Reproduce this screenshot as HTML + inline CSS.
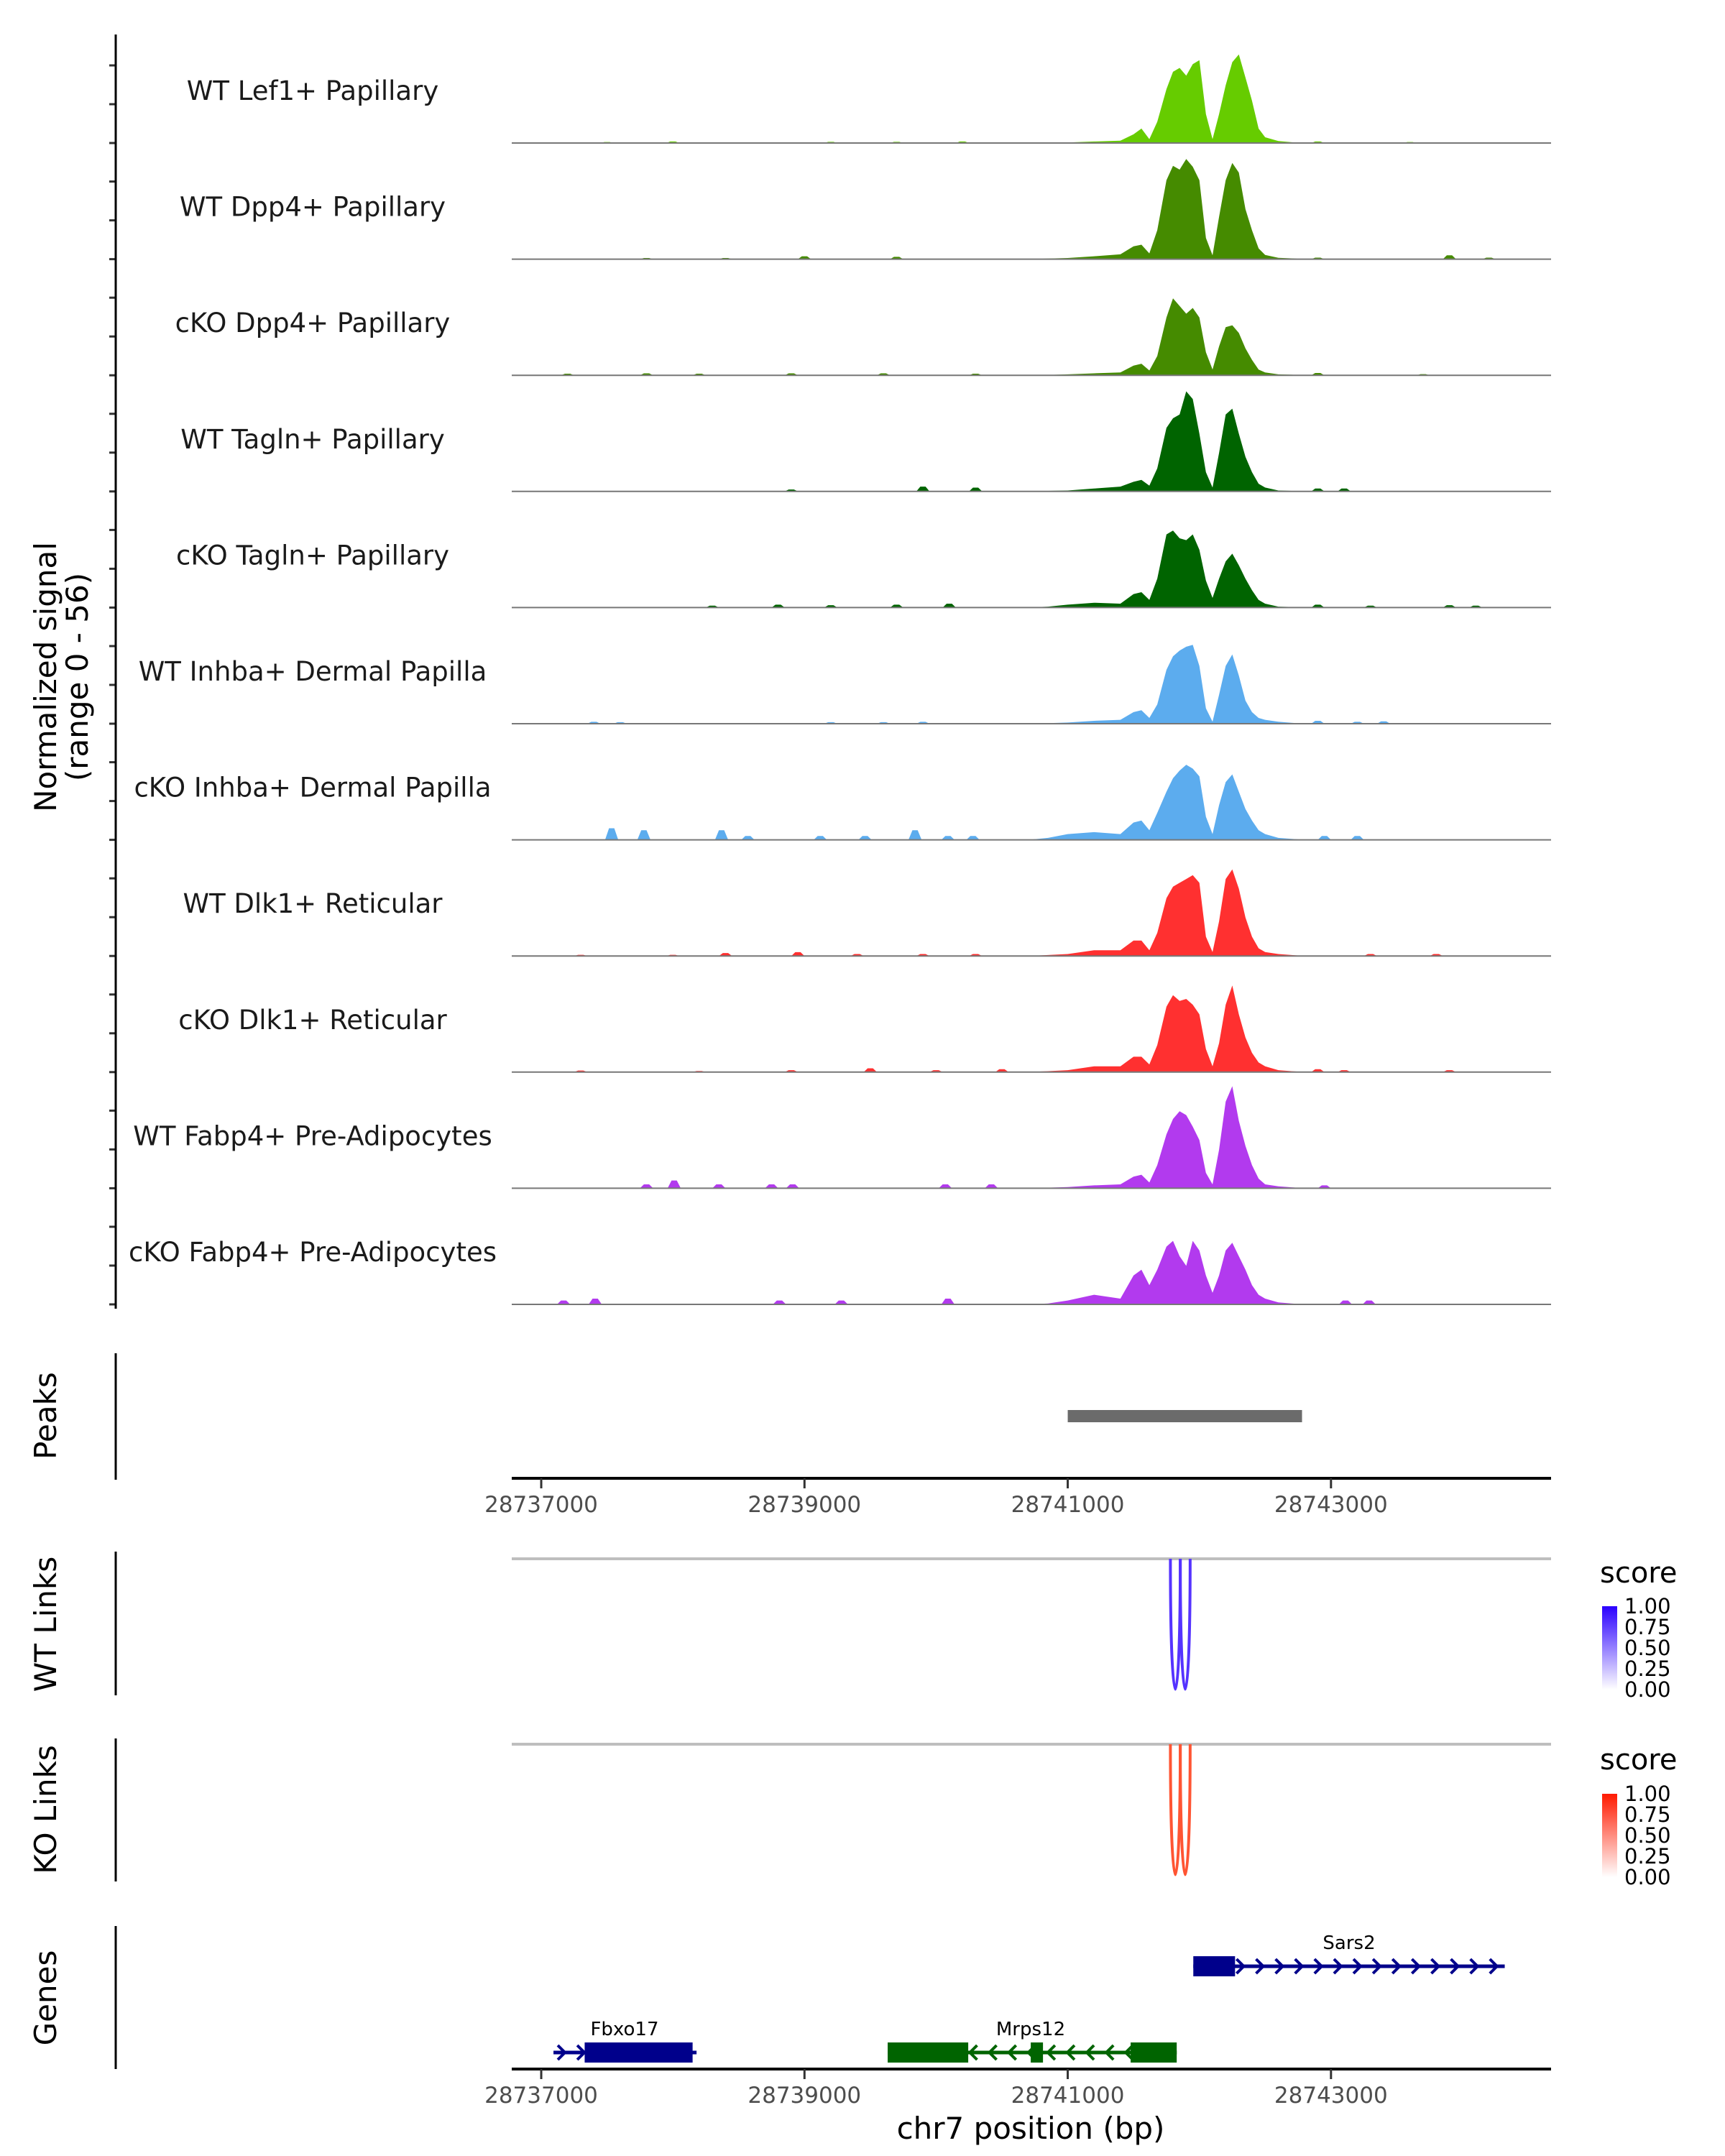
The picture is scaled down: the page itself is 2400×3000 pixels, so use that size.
<!DOCTYPE html>
<html><head><meta charset="utf-8"><style>
html,body{margin:0;padding:0;background:#fff;}
svg{display:block;font-family:"DejaVu Sans","Liberation Sans",sans-serif;}
</style></head>
<body>
<svg id="chart" width="2400" height="3000" viewBox="0 0 2400 3000" xmlns="http://www.w3.org/2000/svg">
  <g id="tracks"></g>
  <text transform="translate(78,942) rotate(-90)" text-anchor="middle" font-size="42" fill="#000">Normalized signal</text>
  <text transform="translate(122,942) rotate(-90)" text-anchor="middle" font-size="42" fill="#000">(range 0 - 56)</text>
  <line x1="161" y1="48" x2="161" y2="1821" stroke="#000" stroke-width="3"/>
  <line x1="161" y1="1883" x2="161" y2="2059" stroke="#000" stroke-width="3"/>
  <text transform="translate(78,1970) rotate(-90)" text-anchor="middle" font-size="42">Peaks</text>
  <line x1="161" y1="2159" x2="161" y2="2359" stroke="#000" stroke-width="3"/>
  <text transform="translate(78,2260) rotate(-90)" text-anchor="middle" font-size="42">WT Links</text>
  <line x1="161" y1="2419" x2="161" y2="2618" stroke="#000" stroke-width="3"/>
  <text transform="translate(78,2518) rotate(-90)" text-anchor="middle" font-size="42">KO Links</text>
  <line x1="161" y1="2680" x2="161" y2="2879" stroke="#000" stroke-width="3"/>
  <text transform="translate(78,2780) rotate(-90)" text-anchor="middle" font-size="42">Genes</text>
  <g id="peaks"></g>
  <g id="axes"></g>
  <g id="links"></g>
  <g id="genes"></g>
  <text x="1434" y="2976" text-anchor="middle" font-size="42">chr7 position (bp)</text>
  <defs>
    <linearGradient id="gBlue" x1="0" y1="1" x2="0" y2="0"><stop offset="0" stop-color="#ffffff"/><stop offset="1" stop-color="#2a00ff"/></linearGradient>
    <linearGradient id="gRed" x1="0" y1="1" x2="0" y2="0"><stop offset="0" stop-color="#ffffff"/><stop offset="1" stop-color="#ff1a00"/></linearGradient>
  </defs>
  <g>
    <text x="2226" y="2202" font-size="40">score</text>
    <rect x="2229" y="2235" width="21" height="116" fill="url(#gBlue)"/>
    <g font-size="29"><text x="2260" y="2245">1.00</text><text x="2260" y="2274">0.75</text><text x="2260" y="2303">0.50</text><text x="2260" y="2332">0.25</text><text x="2260" y="2361">0.00</text></g>
  </g>
  <g>
    <text x="2226" y="2462" font-size="40">score</text>
    <rect x="2229" y="2496" width="21" height="116" fill="url(#gRed)"/>
    <g font-size="29"><text x="2260" y="2506">1.00</text><text x="2260" y="2535">0.75</text><text x="2260" y="2564">0.50</text><text x="2260" y="2593">0.25</text><text x="2260" y="2622">0.00</text></g>
  </g>
</svg>
<script>
const NS="http://www.w3.org/2000/svg";
const trackNames=["WT Lef1+ Papillary","WT Dpp4+ Papillary","cKO Dpp4+ Papillary","WT Tagln+ Papillary","cKO Tagln+ Papillary","WT Inhba+ Dermal Papilla","cKO Inhba+ Dermal Papilla","WT Dlk1+ Reticular","cKO Dlk1+ Reticular","WT Fabp4+ Pre-Adipocytes","cKO Fabp4+ Pre-Adipocytes"];
const trackColors=["#66cc00","#458b00","#458b00","#006400","#006400","#5cacee","#5cacee","#ff3030","#ff3030","#b23aee","#b23aee"];
const keyPos=[28740700,28740850,28741000,28741200,28741400,28741500,28741560,28741620,28741680,28741750,28741800,28741850,28741900,28741950,28742000,28742050,28742100,28742150,28742200,28742250,28742300,28742350,28742400,28742450,28742500,28742600,28742700,28742800];
const sigLef1=[0,0.2,0.3,0.8,1.2,4.5,7.5,2,11,28,37,39,35,41,43,15,2,15,30,42,46,34,22,7.5,3,1,0.4,0];
const sigDpp4WT=[0,0.3,0.6,1.5,2.5,6.7,7.5,3,15,41,48.5,46.5,52,48,41,11,2,22,41,50,45,26,15,5.6,2.2,0.7,0.4,0];
const sigDpp4KO=[0,0.2,0.5,1,1.5,5,6,2.5,10,30,40,36,32,35,30,12,3,15,25,26,22,14,8,3,1.5,0.5,0.3,0];
const sigTaglnWT=[0,0.3,0.5,1.5,2.5,5,6,3,12,33,38,40,52,48,30,10,2,20,40,43,30,18,10,4,2,0.5,0.3,0];
const sigTaglnKO=[0,0.5,1.5,2.5,2,7,8,4,15,38,40,36,35,38,30,14,5,15,24,28,22,15,9,4,2,0.5,0.3,0];
const sigInhbaWT=[0,0.3,0.6,1.5,2,6,7,3,10,28,35,38,40,41,30,8,1,15,30,36,25,12,6,3,2,1,0.5,0];
const sigInhbaKO=[0,1,3,4,3,9,10,5,14,25,32,36,39,37,33,12,3,18,30,34,25,16,10,5,3,1,0.5,0];
const sigDlk1WT=[0,0.5,1,3,3,8,8,3,12,30,36,38,40,42,38,10,2,18,40,45,35,20,10,4,2,1,0.5,0];
const sigDlk1KO=[0,0.5,1,3,3,8,8,4,14,34,40,37,38,35,30,12,3,15,35,45,30,18,10,5,3,1,0.5,0];
const sigFabp4WT=[0,0.3,0.6,1.5,2,6,7,3,12,28,36,40,38,32,25,8,2,20,45,53,35,22,12,5,2,1,0.5,0];
const sigFabp4KO=[0,0.5,2,5,3,15,18,10,18,30,33,25,20,33,28,15,6,15,28,32,25,18,10,5,3,1,0.5,0];
const bumpsLef1=[[28737500,0.5],[28738000,0.8],[28739200,0.6],[28739700,0.6],[28740200,0.8],[28742900,0.8],[28743600,0.5]];
const bumpsDpp4WT=[[28737800,0.6],[28738400,0.6],[28739000,1.5],[28739700,1.2],[28742900,0.8],[28743900,2],[28744200,0.8]];
const bumpsDpp4KO=[[28737200,0.8],[28737800,1],[28738200,0.8],[28738900,1],[28739600,1],[28740300,0.8],[28742900,1.2],[28743700,0.6]];
const bumpsTaglnWT=[[28738900,1],[28739900,2.5],[28740300,2],[28742900,1.5],[28743100,1.5]];
const bumpsTaglnKO=[[28738300,1],[28738800,1.5],[28739200,1.2],[28739700,1.5],[28740100,2],[28742900,1.5],[28743300,1],[28743900,1.2],[28744100,1]];
const bumpsInhbaWT=[[28737400,1],[28737600,0.8],[28739200,0.8],[28739600,0.8],[28739900,1],[28742900,1.5],[28743200,1],[28743400,1.2]];
const bumpsInhbaKO=[[28737535,6],[28737780,5],[28738370,5],[28738570,2],[28739120,2],[28739460,2],[28739840,5],[28740090,2],[28740280,2],[28742950,2],[28743200,2]];
const bumpsDlk1WT=[[28737300,0.6],[28738000,0.6],[28738400,1.5],[28738950,2],[28739400,1],[28739900,1],[28740300,1],[28743300,1],[28743800,1]];
const bumpsDlk1KO=[[28737300,0.8],[28738200,0.6],[28738900,1],[28739500,2],[28740000,1],[28740500,1.5],[28742900,1.5],[28743100,1],[28743900,1]];
const bumpsFabp4WT=[[28737800,2],[28738010,4],[28738350,2],[28738750,2],[28738910,2],[28740070,2],[28740420,2],[28742950,1.5]];
const bumpsFabp4KO=[[28737170,2],[28737410,3],[28738810,2],[28739280,2],[28740090,3],[28743110,2],[28743290,2]];
const trackSignals=[sigLef1,sigDpp4WT,sigDpp4KO,sigTaglnWT,sigTaglnKO,sigInhbaWT,sigInhbaKO,sigDlk1WT,sigDlk1KO,sigFabp4WT,sigFabp4KO];
const trackBumps=[bumpsLef1,bumpsDpp4WT,bumpsDpp4KO,bumpsTaglnWT,bumpsTaglnKO,bumpsInhbaWT,bumpsInhbaKO,bumpsDlk1WT,bumpsDlk1KO,bumpsFabp4WT,bumpsFabp4KO];
const xTicks=[28737000,28739000,28741000,28743000];
const peaks=[[28741000,28742780]];
const linksWT=[[28741780,28741855,1],[28741855,28741930,1]];
const linksKO=[[28741780,28741855,1],[28741855,28741930,1]];
const genesFwd=[{name:"Sars2",start:28741954,end:28744320,exons:[[28741954,28742271]]}];
const genesFbxo=[{name:"Fbxo17",start:28737093,end:28738180,exons:[[28737330,28738150]]}];
const genesRev=[{name:"Mrps12",start:28739632,end:28741828,exons:[[28739632,28740244],[28740719,28740812],[28741478,28741828]]}];

const X0=712,X1=2158,D0=28736776,D1=28744672,YMAX=56,TH=150;
const xs=bp=>X0+(bp-D0)/(D1-D0)*(X1-X0);
const ys=(base,v)=>base-v/YMAX*TH;
function mk(tag,attrs,parent){const e=document.createElementNS(NS,tag);for(const k in attrs)e.setAttribute(k,attrs[k]);parent.appendChild(e);return e;}

const gT=document.getElementById('tracks');
for(let i=0;i<trackNames.length;i++){
  const base=199+i*161.6;
  const g=mk('g',{},gT);
  
  
  let d='M'+xs(keyPos[0])+','+base;
  keyPos.forEach((p,j)=>{d+=' L'+xs(p).toFixed(1)+','+ys(base,trackSignals[i][j]).toFixed(1);});
  d+=' L'+xs(keyPos[keyPos.length-1])+','+base+' Z';
  const a=mk('path',{d:d,fill:trackColors[i]},g);
  
  
  trackBumps[i].forEach(b=>{
    const xa=xs(b[0]-50),xb=xs(b[0]-20),xc=xs(b[0]+20),xd=xs(b[0]+50),yt=ys(base,b[1]);
    const p=mk('path',{d:`M${xa},${base} L${xb},${yt} L${xc},${yt} L${xd},${base} Z`,fill:trackColors[i]},g);
    
    
  });
  const bl=mk('line',{x1:X0,x2:X1,y1:base,y2:base,stroke:'#777',"stroke-width":2},g);
  
  
  const t=mk('text',{x:435,y:base-60,"text-anchor":"middle","font-size":37,fill:'#1a1a1a'},g);
  
  
  t.textContent=trackNames[i];
  [0,54,108].forEach(o=>{
    const tk=mk('line',{x1:152,x2:161,y1:base-o,y2:base-o,stroke:'#333',"stroke-width":3},g);
    
    
  });
}

const gP=document.getElementById('peaks');
peaks.forEach(p=>{
  const r=mk('rect',{x:xs(p[0]),y:1962,width:xs(p[1])-xs(p[0]),height:17,fill:'#6b6b6b'},gP);
  
  
});

const gA=document.getElementById('axes');
[2057,2879].forEach(ay=>{
  const l=mk('line',{x1:X0,x2:X1,y1:ay,y2:ay,stroke:'#000',"stroke-width":4},gA);
  
  
  xTicks.forEach(t=>{
    const tk=mk('line',{x1:xs(t),x2:xs(t),y1:ay,y2:ay+14,stroke:'#333',"stroke-width":3},gA);
    
    
    const tl=mk('text',{x:xs(t),y:ay+47,"text-anchor":"middle","font-size":31,fill:'#4d4d4d'},gA);
    
    
    tl.textContent=String(t);
  });
});

const gL=document.getElementById('links');
[[linksWT,2169,'#5533ff'],[linksKO,2427,'#ff5533']].forEach(([ls,top,col])=>{
  const gl=mk('line',{x1:X0,x2:X1,y1:top,y2:top,stroke:'#bebebe',"stroke-width":4},gL);
  
  
  ls.forEach(l=>{
    const a=xs(l[0]),b=xs(l[1]),depth=182*l[2];
    const p=mk('path',{d:`M${a},${top} C${a},${top+depth*1.33} ${b},${top+depth*1.33} ${b},${top}`,fill:'none',stroke:col,"stroke-width":4},gL);
    
    
  });
});

const gG=document.getElementById('genes');
function drawGene(g,y,col,dir){
  const grp=mk('g',{},gG);
  
  
  mk('line',{x1:xs(g.start),x2:xs(g.end),y1:y,y2:y,stroke:col,"stroke-width":5},grp);
  for(let bp=g.start+60;bp<g.end;bp+=148){
    const x=xs(bp);
    mk('path',{d:`M${x-5*dir},${y-10} L${x+5*dir},${y} L${x-5*dir},${y+10}`,fill:'none',stroke:col,"stroke-width":4},grp);
  }
  g.exons.forEach(e=>{mk('rect',{x:xs(e[0]),y:y-14,width:xs(e[1])-xs(e[0]),height:28,fill:col},grp);});
  const t=mk('text',{x:(xs(g.start)+xs(g.end))/2,y:y-24,"text-anchor":"middle","font-size":26},grp);
  
  
  t.textContent=g.name;
  return t;
}
genesFwd.forEach(g=>{const t=drawGene(g,2736,'#00008b',1);t.setAttribute('x',1877);});
genesFbxo.forEach(g=>{const t=drawGene(g,2856,'#00008b',1);t.setAttribute('x',869);});
genesRev.forEach(g=>{const t=drawGene(g,2856,'#006400',-1);t.setAttribute('x',1434);});
</script>
</body></html>
